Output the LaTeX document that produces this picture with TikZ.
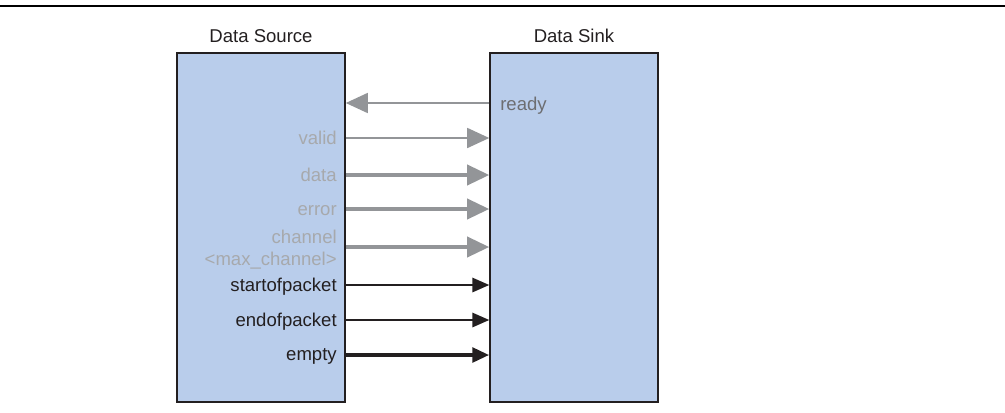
\documentclass[tikz,border=0pt]{standalone}
\usepackage{fontspec}
\setmainfont{Liberation Sans}
\usetikzlibrary{arrows.meta,positioning}
\definecolor{boxfill}{HTML}{B9CDEB}
\definecolor{boxline}{HTML}{231F20}
\definecolor{wiregray}{HTML}{939598}
\definecolor{labelgray}{HTML}{A7A9AC}
\definecolor{readygray}{HTML}{6D6E71}
\tikzset{
  unitbox/.style={
    draw=boxline,
    line width=1.1pt,
    fill=boxfill,
    minimum width=4.2cm,
    minimum height=8.725cm,
    inner sep=0pt
  },
  unittitle/.style={font=\fontsize{13.2}{15.8}\selectfont, text=boxline, inner sep=0pt},
  siglabel/.style={font=\fontsize{13.2}{15.8}\selectfont, text=labelgray, inner sep=0pt, anchor=base east},
  ctrllabel/.style={siglabel, text=boxline},
  readylabel/.style={siglabel, text=readygray, anchor=base west},
  thinwire/.style={-{Triangle[length=0.55cm,width=0.5cm]}, draw=wiregray, line width=1.1pt},
  thickwire/.style={thinwire, line width=2.6pt},
  ctrlwire/.style={-{Triangle[length=0.42cm,width=0.36cm]}, draw=boxline, line width=1.1pt},
  ctrlbus/.style={ctrlwire, line width=2.8pt},
  toprule/.style={draw=black, line width=1.4pt}
}

\begin{document}
\begin{tikzpicture}
  \useasboundingbox (0,0) rectangle (25.125,-10.3);
  \coordinate (ruleL) at (0,-0.15);
  \coordinate (ruleR) at (25.125,-0.15);
  \draw[toprule] (ruleL) -- (ruleR);

  \node[unitbox] (src) at (6.525,-5.6875) {};
  \node[unitbox] (snk) at (14.35,-5.6875) {};
  \node[unittitle, above=0.23cm of src] (srctitle) {Data Source};
  \node[unittitle, above=0.23cm of snk] (snktitle) {Data Sink};

  \coordinate (yready) at (0,-2.575);
  \coordinate (yvalid) at (0,-3.45);
  \coordinate (ydata) at (0,-4.375);
  \coordinate (yerror) at (0,-5.225);
  \coordinate (ychan) at (0,-6.175);
  \coordinate (ysop) at (0,-7.125);
  \coordinate (yeop) at (0,-8.0);
  \coordinate (yempty) at (0,-8.875);

  \node[readylabel] (lready) at (12.5,-2.75) {ready};
  \node[siglabel] (lvalid) at (8.425,-3.6125) {valid};
  \node[siglabel] (ldata) at (8.425,-4.5375) {data};
  \node[siglabel] (lerror) at (8.425,-5.3875) {error};
  \node[siglabel] (lchan) at (8.425,-6.075) {channel};
  \node[siglabel] (lmaxch) at (8.425,-6.625) {<max\_channel>};
  \node[ctrllabel] (lsop) at (8.425,-7.2875) {startofpacket};
  \node[ctrllabel] (leop) at (8.425,-8.1625) {endofpacket};
  \node[ctrllabel] (lempty) at (8.425,-9.0) {empty};

  \draw[thinwire] (snk.west |- yready) -- (src.east |- yready);
  \draw[thinwire] (src.east |- yvalid) -- (snk.west |- yvalid);
  \draw[thickwire] (src.east |- ydata) -- (snk.west |- ydata);
  \draw[thickwire] (src.east |- yerror) -- (snk.west |- yerror);
  \draw[thickwire] (src.east |- ychan) -- (snk.west |- ychan);
  \draw[ctrlwire] (src.east |- ysop) -- (snk.west |- ysop);
  \draw[ctrlwire] (src.east |- yeop) -- (snk.west |- yeop);
  \draw[ctrlbus] (src.east |- yempty) -- (snk.west |- yempty);
\end{tikzpicture}
\end{document}
